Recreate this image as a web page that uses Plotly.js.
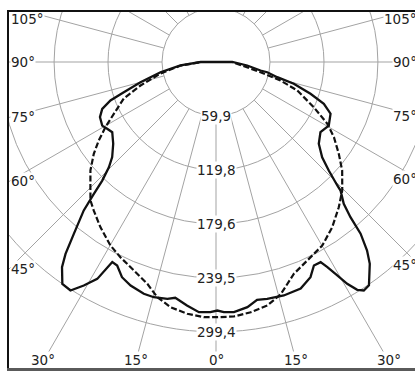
<!DOCTYPE html>
<html>
<head>
<meta charset="utf-8">
<script src="https://cdn.plot.ly/plotly-3.0.1.min.js"></script>
<style>
  html, body { margin:0; padding:0; background:#fff; }
  #wrap { position:absolute; left:0; top:0; width:415px; height:372px; overflow:hidden; background:#fff; }
  #clip { position:absolute; left:9px; top:12px; width:410px; height:356px; overflow:hidden; background:#fff; }
  #plot { position:absolute; }
  .bd { position:absolute; }
</style>
</head>
<body>
<div id="wrap">
  <div id="clip"><div id="plot"></div></div>
  <div class="bd" style="left:7px; top:10px; width:410px; height:2px; background:#111;"></div>
  <div class="bd" style="left:7px; top:10px; width:2px; height:360px; background:#111;"></div>
  <div class="bd" style="left:7px; top:368px; width:410px; height:3px; background:#5a5a5a;"></div>
</div>
<script>
// ---- data (gamma angle in degrees, 0 = straight down; negative = left half) ----
const solidTheta = [-180, -90, -84.4, -79.6, -75.0, -71.9, -70.0, -67.6, -64.6, -60.8, -58.5, -55.9, -51.5, -47.5, -45.5, -43.8, -42.8, -41.7, -39.6, -38.1, -36.9, -34.7, -32.5, -30.6, -28.7, -27.4, -25.9, -23.6, -20.9, -17.3, -14.8, -11.6, -9.8, -6.8, -3.9, -1.3, 0.3, 1.8, 4.1, 7.3, 9.8, 12.2, 16.2, 20.5, 23.7, 25.7, 27.6, 28.5, 29.6, 30.6, 31.8, 32.9, 34.4, 37.3, 38.7, 40.1, 40.9, 42.0, 44.1, 44.5, 46.1, 48.1, 51.5, 56.1, 60.6, 65.7, 68.8, 71.4, 74.4, 76.1, 78.7, 79.2, 83.6, 90, 180];
const solidI     = [0, 17, 39.6, 62.6, 86.7, 107.6, 124.6, 136.5, 142.5, 144.6, 141.6, 139.0, 145.7, 156.2, 166.6, 182.3, 199.4, 220.5, 247.4, 270.5, 284.5, 299.4, 300.5, 288.1, 274.3, 250.0, 251.0, 260.5, 265.5, 269.3, 269.9, 268.2, 265.4, 272.0, 278.2, 277.6, 275.7, 277.7, 278.2, 274.2, 267.7, 268.8, 269.7, 268.2, 260.7, 250.5, 250.5, 258.9, 272.3, 285.9, 297.3, 301.9, 300.3, 281.5, 268.0, 249.0, 227.8, 211.8, 198.5, 192.0, 173.6, 158.2, 145.7, 139.6, 143.6, 139.4, 128.3, 110.6, 89.6, 70.0, 57.9, 50.3, 34.8, 18, 0];

const dashTheta = [-180, -90, -84, -78.3, -72.7, -68.4, -63.1, -59.5, -56.2, -53.1, -49.2, -45.1, -42.2, -39.5, -35.0, -29.9, -26.1, -21.5, -17.2, -14.0, -10.5, -6.5, -2.7, 0.3, 4.0, 7.9, 11.9, 15.5, 20.2, 24.7, 30.1, 35.1, 40.2, 44.5, 49.3, 53.2, 57.5, 61.0, 65.2, 70.7, 74.0, 77.1, 90, 180];
const dashI     = [0, 17, 40, 62.9, 87.7, 110.0, 127.1, 142.3, 156.5, 169.5, 184.0, 196.7, 207.3, 213.3, 223.6, 234.8, 241.1, 248.6, 257.6, 268.9, 276.6, 281.1, 283.4, 283.1, 283.0, 280.2, 276.0, 267.7, 250.3, 242.3, 235.2, 224.1, 211.0, 199.8, 184.6, 170.1, 155.1, 141.1, 119.5, 95.5, 74.4, 50.6, 18, 0];

const radialTicks = [59.9, 119.8, 179.6, 239.5, 299.4];
const radialTickText = ['59,9', '119,8', '179,6', '239,5', '299,4'];
const sideAngles = [105, 90, 75, 60, 45];
const bottomAngles = [-30, -15, 0, 15, 30];
const spokeStep = 15;

// ---- geometry ----
const cx = 215.5, cy = 61.5;          // page position of the polar origin
const pxPerUnit = 54 / 59.9;
const HALF = 380, S = 2 * HALF;
const Rmax = HALF / pxPerUnit;
const frameL = 9, frameR = 418, frameT = 12, frameB = 368;

const plotDiv = document.getElementById('plot');
plotDiv.style.left = (cx - HALF - 9) + 'px';
plotDiv.style.top = (cy - HALF - 12) + 'px';

function paperX(px) { return (px - cx) / S + 0.5; }
function paperY(py) { return 0.5 - (py - cy) / S; }

const gridColor = '#a3a3a3';
const font = { family: 'DejaVu Sans, Verdana, sans-serif', size: 13.5, color: '#222' };

// spokes from first ring outward
const spTheta = [], spR = [];
for (let a = 0; a < 360; a += spokeStep) {
  spTheta.push(a, a, a); spR.push(radialTicks[0], Rmax, null);
}

const traces = [
  { type: 'scatterpolar', mode: 'lines', theta: spTheta, r: spR, connectgaps: false,
    line: { color: gridColor, width: 1 }, hoverinfo: 'skip' },
  { type: 'scatterpolar', mode: 'lines', theta: dashTheta, r: dashI,
    line: { color: '#111', width: 2.2, dash: '6px,2.5px' }, hoverinfo: 'skip' },
  { type: 'scatterpolar', mode: 'lines', theta: solidTheta, r: solidI,
    line: { color: '#111', width: 2.3 }, hoverinfo: 'skip' }
];

const annotations = [];
radialTicks.forEach((v, i) => {
  annotations.push({ xref: 'paper', yref: 'paper', x: paperX(cx), y: paperY(cy + v * pxPerUnit),
    text: radialTickText[i], showarrow: false, xanchor: 'center', yanchor: 'middle',
    bgcolor: '#fff', borderpad: 0, font: font });
});
sideAngles.forEach(a => {
  const rad = a * Math.PI / 180;
  [-1, 1].forEach(side => {
    const edge = side < 0 ? frameL : frameR;
    const t = Math.abs(edge - cx) / Math.sin(rad);
    let y = cy + t * Math.cos(rad);
    y = Math.max(y, frameT + 6);
    annotations.push({ xref: 'paper', yref: 'paper', x: paperX(side < 0 ? frameL : frameR - 1), y: paperY(y),
      text: a + '°', showarrow: false, xanchor: side < 0 ? 'left' : 'right', yanchor: 'middle',
      bgcolor: '#fff', borderpad: 0, font: font });
  });
});
bottomAngles.forEach(a => {
  const rad = a * Math.PI / 180;
  const yLab = frameB - 7;
  const x = cx + (yLab - cy) * Math.tan(rad);
  annotations.push({ xref: 'paper', yref: 'paper', x: paperX(x), y: paperY(frameB),
    text: Math.abs(a) + '°', showarrow: false, xanchor: 'center', yanchor: 'bottom',
    bgcolor: '#fff', borderpad: 0, font: font });
});

const layout = {
  width: S, height: S, autosize: false,
  margin: { l: 0, r: 0, t: 0, b: 0, pad: 0 },
  paper_bgcolor: 'rgba(0,0,0,0)', showlegend: false, hovermode: false,
  polar: {
    domain: { x: [0, 1], y: [0, 1] }, bgcolor: 'rgba(0,0,0,0)',
    radialaxis: { range: [0, Rmax], tickvals: radialTicks, showticklabels: false, ticks: '',
      showline: false, gridcolor: gridColor, gridwidth: 1 },
    angularaxis: { rotation: -90, direction: 'counterclockwise', showgrid: false,
      showticklabels: false, ticks: '', showline: false }
  },
  annotations: annotations
};

Plotly.newPlot(plotDiv, traces, layout, { staticPlot: true, displayModeBar: false });
</script>
</body>
</html>
